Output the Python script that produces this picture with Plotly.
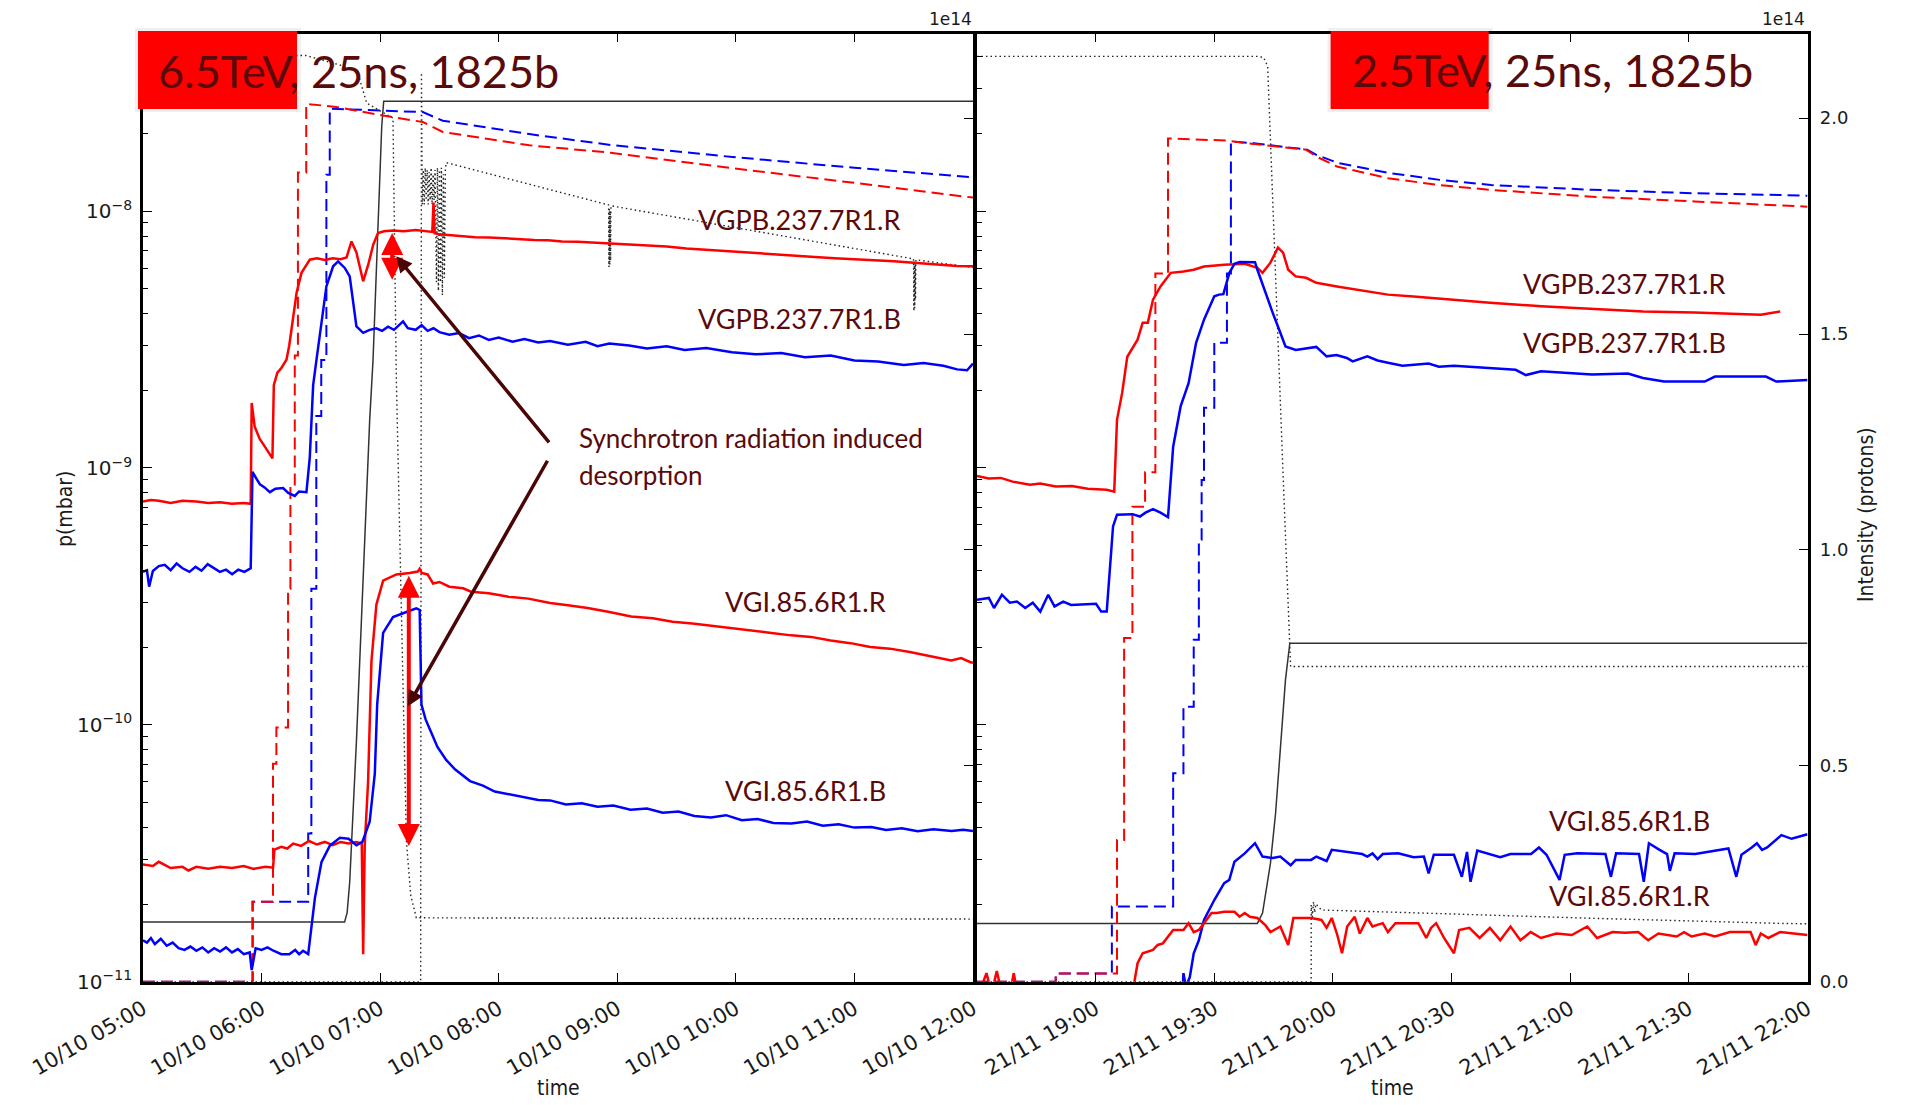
import plotly.graph_objects as go
import pandas as pd

W, H = 1917, 1105

# ===================== DATA =====================
# Left panel: 10/10, time in minutes after 05:00
L_START = "2015-10-10 05:00"
# Right panel: 21/11, time in minutes after 18:30
R_START = "2015-11-21 18:30"

# ---- left panel pressures (mbar) ----
L_VGPB_R = [(0,7.4e-10),(4,7.5e-10),(8,7.45e-10),(14,7.3e-10),(20,7.45e-10),(27,7.4e-10),(33,7.3e-10),(39,7.35e-10),
            (45,7.25e-10),(51,7.3e-10),(54.5,7.25e-10),(55,1.79e-9),(56.5,1.45e-9),(59,1.3e-9),(62,1.2e-9),(65.5,1.09e-9),
            (66.2,2.1e-9),(68,2.35e-9),(70,2.45e-9),(72.6,2.64e-9),(74,3.0e-9),(76,3.9e-9),(77.7,4.8e-9),(80.2,5.75e-9),
            (84.4,6.47e-9),(88,6.55e-9),(92,6.45e-9),(96,6.55e-9),(100,6.5e-9),(103,6.6e-9),(105.5,7.62e-9),(108,6.9e-9),
            (111.4,5.33e-9),(114,6.2e-9),(116.5,7.4e-9),(118.9,8.22e-9),(122,8.35e-9),(126.5,8.41e-9),(132,8.35e-9),
            (138,8.45e-9),(142,8.38e-9),(146.4,8.3e-9),(147,1.08e-8),(147.6,8.2e-9),(150,8.12e-9),(156,8.05e-9),(162,8.0e-9),
            (168,7.92e-9),(175,7.9e-9),(182,7.83e-9),(190,7.8e-9),(198,7.72e-9),(205,7.7e-9),(212,7.62e-9),(220,7.6e-9),
            (228,7.55e-9),(236,7.5e-9),(245,7.42e-9),(255,7.35e-9),(265,7.28e-9),(275,7.15e-9),(288,7.05e-9),(300,6.95e-9),
            (312,6.88e-9),(325,6.75e-9),(338,6.65e-9),(350,6.55e-9),(360,6.5e-9),(370,6.45e-9),(380,6.38e-9),(390,6.3e-9),
            (398,6.22e-9),(405,6.15e-9),(412,6.12e-9),(420,6.1e-9)]
L_VGPB_B = [(0,3.94e-10),(2,4.0e-10),(3.1,3.45e-10),(5,3.97e-10),(8,4.15e-10),(11,4.2e-10),(14,4.0e-10),(17,4.25e-10),
            (20,4.07e-10),(23.5,3.94e-10),(26.6,4.12e-10),(29.6,3.98e-10),(32.7,4.22e-10),(35.8,4.07e-10),(38.9,3.94e-10),
            (42,4.02e-10),(45.1,3.86e-10),(48.2,4.02e-10),(51.3,3.94e-10),(54.5,4.07e-10),(55.4,9.66e-10),(57,9.2e-10),
            (59.1,8.65e-10),(61.5,8.4e-10),(64.2,8.05e-10),(67,8.3e-10),(70.9,8.35e-10),(73.5,8.0e-10),(76.8,7.78e-10),
            (79,8.1e-10),(82.7,8.05e-10),(84.4,1.1e-9),(86.1,2.1e-9),(87.8,2.64e-9),(90.3,3.66e-9),(92.8,5.09e-9),
            (96.2,6.1e-9),(98.7,6.37e-9),(102.1,6.01e-9),(104.6,5.57e-9),(108,3.56e-9),(111.4,3.36e-9),(114.7,3.45e-9),
            (118,3.5e-9),(121,3.42e-9),(124,3.55e-9),(127,3.45e-9),(131.6,3.72e-9),(134,3.5e-9),(138,3.45e-9),(141,3.6e-9),
            (144,3.42e-9),(147,3.5e-9),(150,3.38e-9),(155,3.3e-9),(160,3.35e-9),(165,3.2e-9),(170,3.28e-9),(175,3.15e-9),
            (180,3.22e-9),(187,3.1e-9),(193,3.18e-9),(200,3.08e-9),(206,3.12e-9),(215,3.02e-9),(224,3.1e-9),(230,2.98e-9),
            (236,3.05e-9),(246,3.0e-9),(255,2.92e-9),(265,2.98e-9),(274,2.88e-9),(285,2.93e-9),(298,2.82e-9),(310,2.77e-9),
            (323,2.8e-9),(335,2.7e-9),(348,2.74e-9),(360,2.62e-9),(372,2.6e-9),(385,2.52e-9),(395,2.56e-9),(405,2.5e-9),
            (412,2.42e-9),(417,2.4e-9),(420,2.55e-9)]
L_VGI_R = [(0,2.86e-11),(5,2.82e-11),(8,2.93e-11),(14,2.77e-11),(20,2.8e-11),(23,2.71e-11),(27,2.8e-11),(33,2.75e-11),
           (39,2.8e-11),(45,2.77e-11),(51,2.82e-11),(56,2.75e-11),(62,2.8e-11),(65.8,2.78e-11),(66.5,3.27e-11),(70,3.35e-11),
           (73,3.3e-11),(76,3.45e-11),(80,3.38e-11),(84,3.53e-11),(88,3.42e-11),(92,3.5e-11),(96,3.4e-11),(100,3.5e-11),
           (104,3.45e-11),(108,3.5e-11),(110.7,3.45e-11),(111.4,1.28e-11),(112.2,3.4e-11),(113.9,6.0e-11),(115.6,1.77e-10),
           (118.1,2.94e-10),(121.5,3.64e-10),(128.2,3.85e-10),(135,3.9e-10),(139,3.95e-10),(140,4.05e-10),(141,3.9e-10),
           (144,3.85e-10),(146.8,3.55e-10),(150,3.6e-10),(155,3.45e-10),(162,3.4e-10),(166,3.3e-10),(175,3.25e-10),
           (185,3.15e-10),(195,3.1e-10),(206,2.98e-10),(215,2.92e-10),(225,2.85e-10),(236,2.75e-10),(247,2.64e-10),
           (258,2.6e-10),(268,2.52e-10),(278,2.48e-10),(287,2.43e-10),(298,2.38e-10),(308,2.33e-10),(318,2.28e-10),
           (328,2.23e-10),(338,2.2e-10),(348,2.13e-10),(358,2.08e-10),(368,2.01e-10),(378,1.98e-10),(388,1.92e-10),
           (398,1.85e-10),(409,1.78e-10),(414,1.82e-10),(419,1.75e-10),(420,1.75e-10)]
L_VGI_B = [(0,1.45e-11),(2,1.42e-11),(4,1.48e-11),(6,1.4e-11),(9,1.47e-11),(12,1.38e-11),(15,1.42e-11),(18,1.35e-11),
           (21,1.33e-11),(24,1.37e-11),(27,1.32e-11),(30,1.36e-11),(33,1.3e-11),(36,1.35e-11),(39,1.31e-11),(42,1.36e-11),
           (45,1.3e-11),(48,1.34e-11),(51,1.28e-11),(54,1.3e-11),(55,1.11e-11),(57,1.35e-11),(60,1.33e-11),(63,1.36e-11),
           (66,1.32e-11),(70,1.28e-11),(74,1.28e-11),(77,1.33e-11),(79,1.28e-11),(81,1.32e-11),(83.6,1.28e-11),(87,2.12e-11),
           (90.3,2.92e-11),(94.5,3.38e-11),(99.6,3.63e-11),(104,3.6e-11),(108,3.4e-11),(111,3.5e-11),(114.7,4.2e-11),
           (117.3,6.46e-11),(118.5,1.2e-10),(121.5,2.28e-10),(126.5,2.63e-10),(131,2.7e-10),(135,2.78e-10),(138.3,2.84e-10),
           (140,2.8e-10),(140.9,1.2e-10),(143,1.05e-10),(145.2,9.6e-11),(149,8.2e-11),(153.4,7.3e-11),(158,6.7e-11),
           (165.5,6.04e-11),(172,5.8e-11),(178,5.5e-11),(185.8,5.35e-11),(193,5.2e-11),(200,5.1e-11),(206,5.08e-11),
           (214,4.9e-11),(222,4.95e-11),(230,4.8e-11),(238,4.85e-11),(246.7,4.67e-11),(255,4.72e-11),(263,4.55e-11),
           (271,4.6e-11),(279,4.42e-11),(287.3,4.36e-11),(295,4.45e-11),(303,4.25e-11),(311,4.3e-11),(319,4.15e-11),
           (328,4.13e-11),(336,4.2e-11),(344,4.05e-11),(352,4.1e-11),(360,3.98e-11),(368.6,4.0e-11),(376,3.9e-11),
           (384,3.96e-11),(392,3.85e-11),(400,3.92e-11),(409.2,3.86e-11),(415,3.9e-11),(420,3.86e-11)]

# ---- left panel intensities (1e14 protons) ----
L_INT_R = [(0,0),(55.4,0),(55.4,0.185),(65.8,0.185),(65.8,0.505),(67.5,0.505),(67.5,0.589),(73.4,0.589),(73.4,0.91),
           (74.6,0.91),(74.6,1.148),(76.8,1.148),(76.8,1.45),(78.4,1.45),(78.4,1.874),(82.6,1.874),(82.6,2.033),
           (97.8,2.026),(121.4,2.006),(141.6,1.991),(151.7,1.968),(195.5,1.937),(236.5,1.92),(298.3,1.884),(360,1.85),
           (420,1.816)]
L_INT_B = [(0,0),(55.5,0),(55.5,0.185),(83.6,0.185),(83.6,0.343),(85.2,0.343),(85.2,0.91),(87.7,0.91),(87.7,1.31),
           (90.2,1.31),(90.2,1.44),(92.8,1.44),(92.8,1.869),(94.5,1.869),(94.5,2.022),(121.4,2.017),(141.6,2.014),
           (151.7,1.994),(195.5,1.963),(236.5,1.938),(298.3,1.91),(360,1.885),(420,1.863)]
L_ENERGY = [(0,0.138),(102,0.138),(103.3,0.16),(104.6,0.231),(108,0.557),(111.4,0.929),(114.7,1.30),(116.4,1.44),
            (119,1.78),(120.8,1.98),(121.8,2.039),(420,2.039)]
L_DOT_A = [(0,2.145),(82.4,2.145),(108.2,2.112),(110.7,2.073),(113.2,2.035),(126.5,2.0),(128.2,1.394),(133.3,0.324),
           (135.5,0.2),(138.3,0.148),(420,0.145)]
L_DOT_B = [(0,0),(140.5,0),(140.9,2.105),(141.3,1.80),(141.8,1.88),(142.3,1.80),(142.8,1.885),(143.3,1.81),(143.8,1.88),
           (144.3,1.80),(144.8,1.875),(145.3,1.81),(145.8,1.885),(146.3,1.80),(146.8,1.87),(147.3,1.81),(147.8,1.88),
           (148.5,1.62),(149.0,1.885),(149.5,1.60),(150.0,1.88),(150.5,1.62),(151.0,1.885),(151.5,1.59),(152.0,1.87),
           (152.5,1.63),(153.0,1.88),(153.4,1.897),(235.6,1.799),(235.8,1.655),(236.0,1.79),(236.2,1.66),(236.4,1.785),
           (236.6,1.67),(236.8,1.797),(389.9,1.674),(390.1,1.553),(390.3,1.67),(390.5,1.56),(390.7,1.665),(390.9,1.58),
           (391.1,1.672),(420,1.654)]

# ---- right panel pressures (mbar) ----
R_VGPB_R = [(0,9.3e-10),(3,9.1e-10),(6,9.15e-10),(9,8.85e-10),(13.4,8.61e-10),(16,8.7e-10),(19.9,8.47e-10),(24,8.5e-10),
            (28,8.3e-10),(32.8,8.22e-10),(34.7,8.09e-10),(35.4,1.54e-9),(36.7,1.96e-9),(38,2.71e-9),(40.6,3.16e-9),
            (41.9,3.68e-9),(43.2,3.68e-9),(44.5,4.52e-9),(46.4,5.09e-9),(49,5.75e-9),(52.2,5.82e-9),(54.8,5.91e-9),
            (57.4,6.09e-9),(62.5,6.19e-9),(67.7,6.24e-9),(70.9,6.02e-9),(72.2,5.75e-9),(74.2,6.3e-9),(76.1,7.21e-9),
            (77.4,6.89e-9),(78.7,5.91e-9),(80.6,5.57e-9),(83.2,5.5e-9),(85.8,5.26e-9),(91,5.09e-9),(98.7,4.87e-9),
            (103.9,4.73e-9),(110.4,4.65e-9),(116.8,4.56e-9),(124.6,4.45e-9),(129.7,4.40e-9),(142.7,4.26e-9),(155.6,4.17e-9),
            (168.5,4.07e-9),(181.4,4.03e-9),(198.2,3.95e-9),(203.1,4.07e-9)]
R_VGPB_B = [(0,3.07e-10),(3,3.12e-10),(4.3,2.85e-10),(6.3,3.21e-10),(8.3,2.99e-10),(10.1,3.02e-10),(12.2,2.85e-10),
            (14.1,2.99e-10),(16,2.76e-10),(18,3.21e-10),(19.6,2.89e-10),(21.8,3.02e-10),(23.8,2.93e-10),(30.1,2.96e-10),
            (31.4,2.76e-10),(32.8,2.76e-10),(34.4,5.92e-10),(35.4,6.58e-10),(39.3,6.61e-10),(41.2,6.47e-10),(42.6,6.7e-10),
            (44.5,6.92e-10),(46.4,6.7e-10),(48.3,6.44e-10),(49.6,1.21e-9),(51.5,1.74e-9),(53.5,2.14e-9),(55.4,3.07e-9),
            (57.4,3.78e-9),(60,4.66e-9),(61.2,4.73e-9),(62.3,4.75e-9),(63.8,5.74e-9),(65.1,6.24e-9),(66.4,6.34e-9),
            (70.3,6.32e-9),(70.9,5.91e-9),(72.9,4.80e-9),(74.8,4.01e-9),(76.7,3.36e-9),(78,2.97e-9),(80.6,2.88e-9),
            (85.8,2.96e-9),(88.4,2.72e-9),(90.9,2.75e-9),(93.5,2.68e-9),(95,2.6e-9),(98.7,2.72e-9),(101.3,2.62e-9),
            (103.9,2.57e-9),(107.6,2.5e-9),(114.2,2.55e-9),(116.8,2.48e-9),(120.6,2.5e-9),(128.4,2.46e-9),(136.2,2.41e-9),
            (138.8,2.3e-9),(142.6,2.38e-9),(155.5,2.31e-9),(164.6,2.33e-9),(168.4,2.24e-9),(173.7,2.17e-9),(184,2.17e-9),
            (186.6,2.27e-9),(191.7,2.27e-9),(199.5,2.27e-9),(202.1,2.17e-9),(210,2.2e-9)]
R_VGI_B = [(0,8e-12),(51.8,8e-12),(52.2,1.08e-11),(52.8,9.6e-12),(53.8,1.04e-11),(54.8,1.29e-11),(56.1,1.45e-11),
           (57.4,1.74e-11),(60,2.08e-11),(62.5,2.42e-11),(63.8,2.49e-11),(65.1,2.93e-11),(67.7,3.16e-11),(70.3,3.46e-11),
           (72.2,3.07e-11),(74.8,3.03e-11),(76.7,3.07e-11),(79.3,2.84e-11),(80.6,2.98e-11),(84.5,2.98e-11),(85.8,3.07e-11),
           (88.4,2.95e-11),(89.7,3.26e-11),(97.4,3.14e-11),(98.7,3.07e-11),(100,3.16e-11),(101.3,3.0e-11),(102.6,3.14e-11),
           (106.5,3.16e-11),(110.4,3.05e-11),(113,3.07e-11),(114.2,2.64e-11),(115.5,3.12e-11),(120.6,3.12e-11),
           (122.6,2.56e-11),(123.9,3.2e-11),(124.8,2.45e-11),(126.5,3.24e-11),(132.3,3.05e-11),(134.9,3.14e-11),
           (140.1,3.14e-11),(142.1,3.33e-11),(144,3.12e-11),(147.3,2.49e-11),(148.6,3.12e-11),(151.8,3.16e-11),
           (158.9,3.14e-11),(160.3,2.56e-11),(161.6,3.16e-11),(167.4,3.14e-11),(168.6,2.45e-11),(169.9,3.46e-11),
           (172.6,3.26e-11),(174.5,3.14e-11),(175.2,2.7e-11),(176.4,3.16e-11),(181.6,3.14e-11),(190,3.3e-11),
           (192,2.56e-11),(193.3,3.12e-11),(195.9,3.33e-11),(197.2,3.46e-11),(198.5,3.26e-11),(199.8,3.33e-11),
           (203.4,3.72e-11),(206,3.6e-11),(210,3.75e-11)]
R_VGI_R = [(0,9e-12),(0.5,9e-12),(2.4,1.08e-11),(3.7,9e-12),(5,1.1e-11),(6.3,9e-12),(8.3,9e-12),(9.3,1.08e-11),(10.2,9e-12),
           (39.3,9e-12),(40.6,1.18e-11),(41.9,1.29e-11),(44.5,1.33e-11),(45.7,1.39e-11),(47,1.41e-11),(49,1.54e-11),
           (49.6,1.59e-11),(52.2,1.59e-11),(53.5,1.69e-11),(54.8,1.56e-11),(56.1,1.59e-11),(57.4,1.69e-11),(59.3,1.85e-11),
           (60.6,1.85e-11),(62.5,1.87e-11),(65.1,1.87e-11),(66.4,1.79e-11),(67.7,1.85e-11),(69,1.79e-11),(70.9,1.77e-11),
           (72.9,1.66e-11),(74.2,1.56e-11),(76.7,1.64e-11),(78.7,1.39e-11),(80,1.77e-11),(84.5,1.77e-11),(87.1,1.74e-11),
           (88.4,1.62e-11),(89.7,1.77e-11),(91,1.54e-11),(92.3,1.29e-11),(93.6,1.64e-11),(95.5,1.79e-11),(96.8,1.54e-11),
           (98.7,1.77e-11),(100,1.64e-11),(102.6,1.69e-11),(103.9,1.56e-11),(105.8,1.69e-11),(111.6,1.69e-11),
           (113.6,1.48e-11),(114.8,1.62e-11),(116.1,1.69e-11),(118.1,1.48e-11),(120.6,1.29e-11),(121.9,1.59e-11),
           (124.5,1.62e-11),(127.1,1.48e-11),(129.7,1.62e-11),(132.3,1.45e-11),(134.9,1.64e-11),(137.4,1.45e-11),
           (140,1.56e-11),(142.6,1.48e-11),(146.5,1.54e-11),(150.4,1.52e-11),(154.3,1.64e-11),(156.8,1.48e-11),
           (160.7,1.56e-11),(163.9,1.55e-11),(167.2,1.56e-11),(169.7,1.45e-11),(172.3,1.54e-11),(176.9,1.5e-11),
           (178.8,1.56e-11),(180.7,1.5e-11),(184,1.54e-11),(186.6,1.5e-11),(190.4,1.56e-11),(195.6,1.56e-11),
           (196.9,1.39e-11),(198.2,1.54e-11),(200.1,1.48e-11),(203.1,1.56e-11),(210,1.52e-11)]

# ---- right panel intensities (1e14 protons) ----
R_INT_R = [(0,0),(19.9,0),(19.9,0.019),(35.4,0.019),(35.4,0.328),(37.2,0.328),(37.2,0.796),(39.3,0.796),(39.3,1.10),
           (42.5,1.10),(42.5,1.18),(45.1,1.18),(45.1,1.64),(48.3,1.64),(48.3,1.953),(63,1.948),(70,1.94),(83.2,1.927),
           (85.8,1.911),(91,1.888),(103.9,1.861),(116.8,1.845),(129.7,1.834),(155.5,1.818),(181.4,1.807),(203.4,1.797),
           (210,1.795)]
R_INT_B = [(0,0),(19.9,0),(19.9,0.019),(34.1,0.019),(34.1,0.174),(49.6,0.174),(49.6,0.483),(52.2,0.483),(52.2,0.637),
           (54.8,0.637),(54.8,0.792),(56.1,0.792),(56.1,1.024),(56.8,1.024),(56.8,1.162),(57.4,1.162),(57.4,1.329),
           (60,1.329),(60,1.48),(63.2,1.48),(63.2,1.64),(64.2,1.64),(64.2,1.946),(70,1.942),(83.5,1.927),(85.8,1.915),
           (91.3,1.896),(104.2,1.873),(117,1.857),(130,1.845),(155.6,1.834),(181.4,1.826),(203,1.822),(210,1.82)]
R_ENERGY = [(0,0.135),(70.9,0.135),(72.2,0.159),(74.2,0.274),(75.5,0.39),(76.7,0.544),(78,0.699),(79.1,0.784),(210,0.784)]
R_DOT_A = [(0,2.143),(71.2,2.143),(72.5,2.14),(73.5,2.12),(77.5,1.15),(79,0.79),(79.3,0.73),(210,0.73)]
R_DOT_B = [(0,0),(84.5,0),(84.5,0.178),(84.8,0.15),(85.1,0.185),(85.4,0.16),(85.7,0.18),(87.1,0.166),(116.1,0.158),
           (154.9,0.147),(203.4,0.135),(210,0.134)]

L_TICKS_MIN = [0, 60, 120, 180, 240, 300, 360, 420]
R_TICKS_MIN = [30, 60, 90, 120, 150, 180, 210]

# ===================== FIGURE =====================
L0 = pd.Timestamp(L_START)
R0 = pd.Timestamp(R_START)


def T(base, mins):
    return [base + pd.Timedelta(minutes=m) for m in mins]


fig = go.Figure()


def add(base, pairs, color, width, dash, xa, ya):
    fig.add_trace(go.Scatter(
        x=T(base, [a for a, _ in pairs]), y=[b for _, b in pairs], mode="lines",
        line=dict(color=color, width=width, dash=dash), xaxis=xa, yaxis=ya,
        showlegend=False, hoverinfo="skip"))


DOT = "1.5px,3px"
DASH = "12px,6px"
# left panel: intensity axis y (right), pressure y2 (left, log)
add(L0, L_DOT_A, "#222222", 1.4, DOT, "x", "y")
add(L0, L_DOT_B, "#222222", 1.4, DOT, "x", "y")
add(L0, L_ENERGY, "#333333", 1.5, "solid", "x", "y")
add(L0, L_INT_B, "#0000ff", 2, DASH, "x", "y")
add(L0, L_INT_R, "#ff0000", 2, DASH, "x", "y")
add(L0, L_VGPB_R, "#ff0000", 2.5, "solid", "x", "y2")
add(L0, L_VGPB_B, "#0000ff", 2.5, "solid", "x", "y2")
add(L0, L_VGI_R, "#ff0000", 2.5, "solid", "x", "y2")
add(L0, L_VGI_B, "#0000ff", 2.5, "solid", "x", "y2")
# right panel: intensity axis y3 (right), pressure y4 (left, log)
add(R0, R_DOT_A, "#222222", 1.4, DOT, "x2", "y3")
add(R0, R_DOT_B, "#222222", 1.4, DOT, "x2", "y3")
add(R0, R_ENERGY, "#333333", 1.5, "solid", "x2", "y3")
add(R0, R_INT_B, "#0000ff", 2, DASH, "x2", "y3")
add(R0, R_INT_R, "#ff0000", 2, DASH, "x2", "y3")
add(R0, R_VGPB_R, "#ff0000", 2.5, "solid", "x2", "y4")
add(R0, R_VGPB_B, "#0000ff", 2.5, "solid", "x2", "y4")
add(R0, R_VGI_B, "#0000ff", 2.5, "solid", "x2", "y4")
add(R0, R_VGI_R, "#ff0000", 2.5, "solid", "x2", "y4")

YB, YT = 1 - 981.7 / H, 1 - 33.5 / H
LX = [143 / W, 973 / W]
RX = [977 / W, 1807.5 / W]
INT_RANGE = [0, 2.196]
LOG_RANGE = [-11, -7.3085]

tfx = dict(family="DejaVu Sans", size=21, color="#1a1a1a")
tfy = dict(family="DejaVu Sans", size=16, color="#1a1a1a")
line_common = dict(showline=True, linewidth=2.5, linecolor="black", showgrid=False, zeroline=False,
                   ticks="inside", ticklen=9, tickwidth=1.2, tickcolor="black", automargin=False)

lt = T(L0, L_TICKS_MIN)
rt = T(R0, R_TICKS_MIN)
xcommon = dict(type="date", tickangle=-30, tickfont=tfx, mirror="ticks", tickmode="array", ticklabelstandoff=4,
               **line_common)

fig.update_layout(
    width=W, height=H, margin=dict(l=0, r=0, t=0, b=0, autoexpand=False), autosize=False,
    paper_bgcolor="white", plot_bgcolor="white",
    xaxis=dict(domain=LX, anchor="y", range=[L0, L0 + pd.Timedelta(minutes=420)], tickvals=lt,
               ticktext=[d.strftime("%d/%m %H:%M") for d in lt], **xcommon),
    yaxis=dict(domain=[YB, YT], anchor="x", side="right", range=INT_RANGE, tickmode="linear", tick0=0, dtick=0.5,
               showticklabels=False, **line_common),
    yaxis2=dict(overlaying="y", anchor="x", side="left", type="log", range=LOG_RANGE, dtick=1,
                exponentformat="power", tickfont=tfy, ticklabelstandoff=5,
                minor=dict(ticks="inside", ticklen=5, tickcolor="black", dtick="D1"), **line_common),
    xaxis2=dict(domain=RX, anchor="y3", range=[R0, R0 + pd.Timedelta(minutes=210)], tickvals=rt,
                ticktext=[d.strftime("%d/%m %H:%M") for d in rt], **xcommon),
    yaxis3=dict(domain=[YB, YT], anchor="x2", side="right", range=INT_RANGE, tickmode="linear", tick0=0, dtick=0.5,
                tickformat=".1f", tickfont=dict(family="DejaVu Sans", size=18, color="#1a1a1a"),
                ticklabelstandoff=6, **line_common),
    yaxis4=dict(overlaying="y3", anchor="x2", side="left", type="log", range=LOG_RANGE, dtick=1,
                showticklabels=False, minor=dict(ticks="inside", ticklen=5, tickcolor="black", dtick="D1"),
                **line_common),
)


def PX(x):
    return x / W


def PY(y):
    return 1 - y / H


# red title boxes (with faint shadow)
for x0, x1 in [(138, 297), (1330.6, 1488.7)]:
    fig.add_shape(type="rect", xref="paper", yref="paper", x0=PX(x0 - 3), x1=PX(x1 + 4), y0=PY(112), y1=PY(28),
                  fillcolor="rgba(0,0,0,0.06)", line_width=0, layer="above")
    fig.add_shape(type="rect", xref="paper", yref="paper", x0=PX(x0), x1=PX(x1), y0=PY(109), y1=PY(31),
                  fillcolor="#ff0000", line_width=0, layer="above")

DR = "#5a0a0a"
FUT = "Lato, 'Noto Sans', sans-serif"
COND = "'DejaVu Sans Condensed', 'Liberation Sans Narrow', 'DejaVu Sans', sans-serif"


def text(x, y, s, size, family=FUT, color=DR, xanchor="left", angle=0):
    fig.add_annotation(xref="paper", yref="paper", x=PX(x), y=PY(y), text=s, showarrow=False,
                       xanchor=xanchor, yanchor="middle", textangle=angle,
                       font=dict(family=family, size=size, color=color))


text(156, 71, "6.5TeV, 25ns, 1825b", 45)
text(1350, 70, "2.5TeV, 25ns, 1825b", 45)
text(696, 220, "VGPB.237.7R1.R", 27)
text(696, 318, "VGPB.237.7R1.B", 27)
text(723, 601, "VGI.85.6R1.R", 27)
text(723, 790, "VGI.85.6R1.B", 27)
text(1521, 283, "VGPB.237.7R1.R", 27)
text(1521, 342, "VGPB.237.7R1.B", 27)
text(1547, 820, "VGI.85.6R1.B", 27)
text(1547, 895, "VGI.85.6R1.R", 27)
text(577, 438, "Synchrotron radiation induced", 26)
text(577, 475, "desorption", 26)
text(974, 19, "1e14", 17, family="DejaVu Sans", color="#1a1a1a", xanchor="right")
text(1807, 19, "1e14", 17, family="DejaVu Sans", color="#1a1a1a", xanchor="right")
text(65, 509, "p(mbar)", 21, family=COND, color="#1a1a1a", xanchor="center", angle=-90)
text(1866, 515, "Intensity (protons)", 21, family=COND, color="#1a1a1a", xanchor="center", angle=-90)
text(558, 1088, "time", 21, family=COND, color="#1a1a1a", xanchor="center")
text(1392, 1088, "time", 21, family=COND, color="#1a1a1a", xanchor="center")


def arrow(tip_min, tip_logp, tail_min, tail_logp, color, width, size, both=False):
    fig.add_annotation(xref="x", yref="y2", axref="x", ayref="y2",
                       x=L0 + pd.Timedelta(minutes=tip_min), y=tip_logp,
                       ax=L0 + pd.Timedelta(minutes=tail_min), ay=tail_logp,
                       text="", showarrow=True, arrowhead=2, arrowsize=size, arrowwidth=width,
                       arrowcolor=color, arrowside="end+start" if both else "end")


arrow(126.1, -8.085, 126.1, -8.273, "#ff0000", 4, 1.1, both=True)
arrow(134.5, -9.42, 134.5, -10.478, "#ff0000", 4, 1.1, both=True)
arrow(128.2, -8.176, 206.1, -8.906, "#4a0505", 3.5, 0.9)
arrow(134.0, -9.928, 205.1, -8.966, "#4a0505", 3.5, 0.9)

fig.write_html("out.html")
